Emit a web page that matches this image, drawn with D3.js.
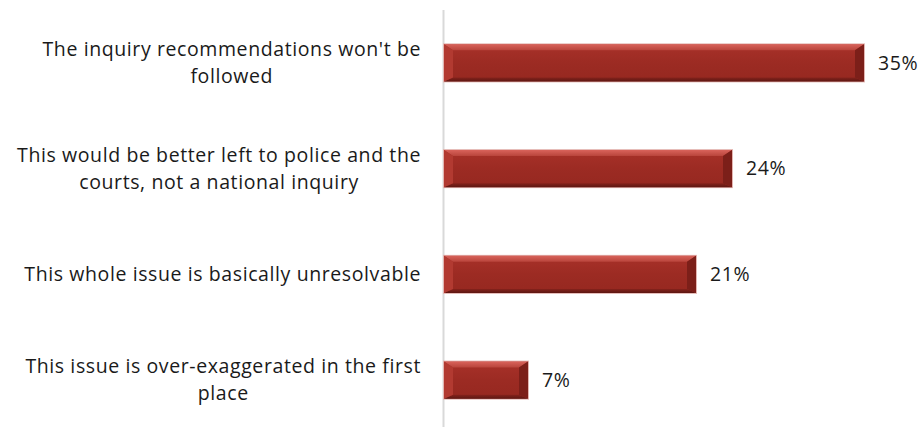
<!DOCTYPE html>
<html>
<head>
<meta charset="utf-8">
<script src="https://cdn.jsdelivr.net/npm/d3@7"></script>
<style>
  html, body { margin: 0; padding: 0; background: #fff; }
  svg { display: block; }
  text { font-family: "Open Sans", Lato, sans-serif; fill: #1a1a1a; }
</style>
</head>
<body>
<svg id="chart" width="920" height="427"></svg>
<script>
// Reasons given for doubting a national inquiry (share of respondents)
const categories = [
  ["The inquiry recommendations won't be", "followed"],
  ["This would be better left to police and the", "courts, not a national inquiry"],
  ["This whole issue is basically unresolvable"],
  ["This issue is over-exaggerated in the first", "place"]
];
const values = [35, 24, 21, 7];
const valueLabels = ["35%", "24%", "21%", "7%"];

const svg = d3.select("#chart");
const W = 920, H = 427;
const axisX = 443.5;
const fontSize = 19.5;
const tracking = 0.6;

const x = d3.scaleLinear().domain([0, 35]).range([axisX + 0.5, 864]);
const y = d3.scaleBand().domain(d3.range(values.length)).range([10, 433]).paddingInner(0.65).paddingOuter(0.325);

// Gradients for the bevelled bar faces
const defs = svg.append("defs");
const face = defs.append("linearGradient").attr("id", "face").attr("x1", 0).attr("y1", 0).attr("x2", 0).attr("y2", 1);
face.append("stop").attr("offset", "0%").attr("stop-color", "#a83129");
face.append("stop").attr("offset", "50%").attr("stop-color", "#9c2b23");
face.append("stop").attr("offset", "100%").attr("stop-color", "#962820");
const topEdge = defs.append("linearGradient").attr("id", "topEdge").attr("x1", 0).attr("y1", 0).attr("x2", 0).attr("y2", 1);
topEdge.append("stop").attr("offset", "0%").attr("stop-color", "#d8625a");
topEdge.append("stop").attr("offset", "100%").attr("stop-color", "#b8443b");
const botEdge = defs.append("linearGradient").attr("id", "botEdge").attr("x1", 0).attr("y1", 0).attr("x2", 0).attr("y2", 1);
botEdge.append("stop").attr("offset", "0%").attr("stop-color", "#86231c");
botEdge.append("stop").attr("offset", "100%").attr("stop-color", "#5e1712");

// Vertical category axis line
svg.append("line")
  .attr("x1", axisX).attr("x2", axisX)
  .attr("y1", 10).attr("y2", H)
  .attr("stroke", "#d9d9d9").attr("stroke-width", 2);

const bev = 6;      // bevel depth at top/bottom
const side = 9;     // bevel depth at the ends

const bars = svg.append("g").selectAll("g").data(values).join("g");

bars.each(function(v, i) {
  const g = d3.select(this);
  const x0 = x(0), x1 = x(v);
  const y0 = y(i), y1 = y(i) + y.bandwidth();
  // outer soft outline
  g.append("rect").attr("x", x0 - 0.5).attr("y", y0 - 0.5).attr("width", x1 - x0 + 1).attr("height", y1 - y0 + 1)
    .attr("fill", "none").attr("stroke", "#e3b5b1").attr("stroke-width", 1);
  g.append("rect").attr("x", x0).attr("y", y0).attr("width", x1 - x0).attr("height", y1 - y0).attr("fill", "url(#face)");
  // top bevel
  g.append("polygon").attr("points", [[x0, y0], [x1, y0], [x1 - side, y0 + bev], [x0 + side, y0 + bev]].join(" "))
    .attr("fill", "url(#topEdge)");
  // bottom bevel
  g.append("polygon").attr("points", [[x0, y1], [x1, y1], [x1 - side, y1 - bev + 2], [x0 + side, y1 - bev + 2]].join(" "))
    .attr("fill", "url(#botEdge)");
  // left bevel
  g.append("polygon").attr("points", [[x0, y0], [x0 + side, y0 + bev], [x0 + side, y1 - bev + 2], [x0, y1]].join(" "))
    .attr("fill", "#b23a31");
  // right bevel
  g.append("polygon").attr("points", [[x1, y0], [x1 - side, y0 + bev], [x1 - side, y1 - bev + 2], [x1, y1]].join(" "))
    .attr("fill", "#7c1f19");
});

// Value labels
svg.append("g").selectAll("text").data(values).join("text")
  .attr("x", d => x(d) + 14)
  .attr("y", (d, i) => y(i) + y.bandwidth() / 2)
  .attr("dy", "0.35em")
  .attr("font-size", fontSize)
  .attr("letter-spacing", tracking)
  .text((d, i) => valueLabels[i]);

// Category labels: block right-aligned next to the axis, lines centred within it
const labelRight = 421;
const lineH = 27;
const lab = svg.append("g");
categories.forEach((lines, i) => {
  const cy = y(i) + y.bandwidth() / 2;
  const t = lab.append("text").attr("font-size", fontSize).attr("letter-spacing", tracking).attr("text-anchor", "middle");
  const spans = lines.map((ln, k) => t.append("tspan").text(ln)
    .attr("y", cy + (k - (lines.length - 1) / 2) * lineH).attr("dy", "0.35em"));
  const w = d3.max(spans, s => s.node().getComputedTextLength());
  spans.forEach(s => s.attr("x", labelRight - w / 2));
});
</script>
</body>
</html>
